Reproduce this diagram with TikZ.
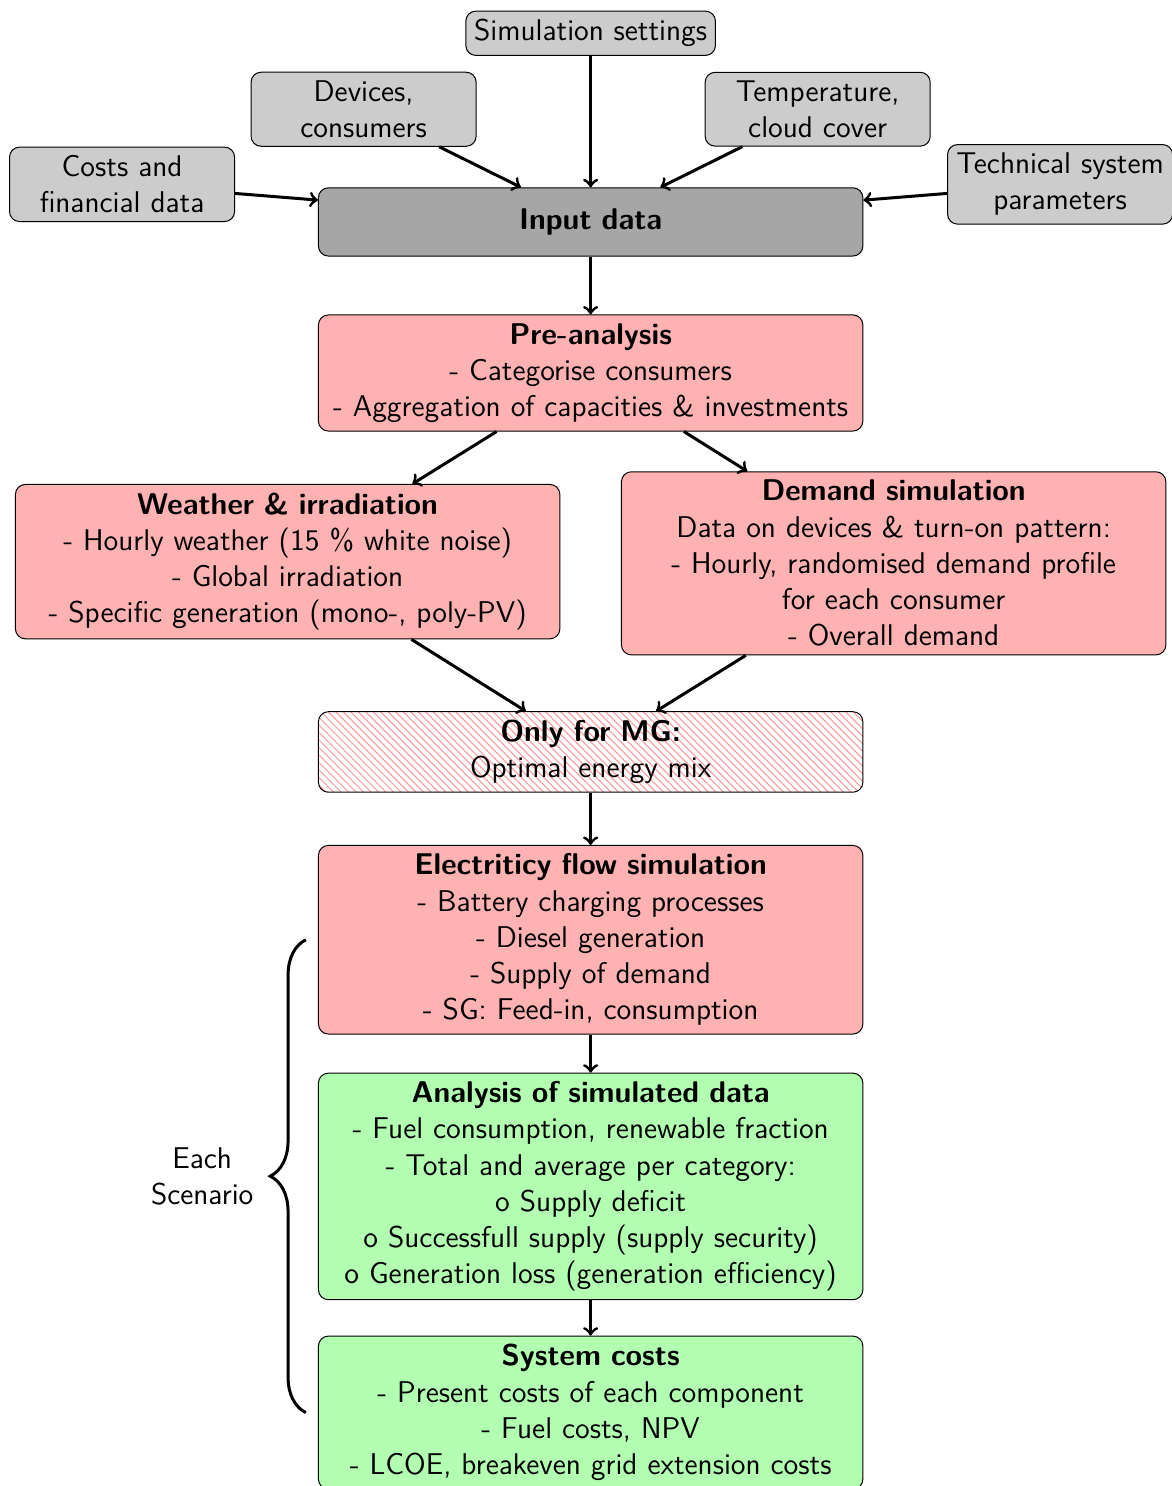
\documentclass[tikz,border=0pt]{standalone}
\usepackage{tikz}
\usetikzlibrary{patterns}
\usetikzlibrary{decorations.pathreplacing}

\begin{document}
\begin{tikzpicture}[x=1.2cm,y=1.2cm,font=\fontsize{12}{14.5}\selectfont\sffamily,
  inbox/.style={rectangle, rounded corners=4pt, draw=black, fill=black!20, text width=2.93cm, align=center},
  stepbox/.style={rectangle, rounded corners=4pt, draw=black, text width=7.42cm, align=center},
  simbox/.style={stepbox, fill=red!30},
  evalbox/.style={stepbox, fill=green!30},
  flow/.style={->, line width=1.2pt}]
\useasboundingbox (0,0) rectangle (13.73,-17.41);

\node[inbox, text width={}](sim) at (6.92,-0.39) {Simulation settings};
\node[inbox](dev) at (4.26,-1.28) {Devices,\\consumers};
\node[inbox](temp) at (9.58,-1.28) {Temperature,\\cloud cover};
\node[inbox](fin) at (1.43,-2.16) {Costs and\\financial data};
\node[inbox](tech) at (12.42,-2.16) {Technical system\\parameters};

\node[stepbox, fill=black!35, minimum height=0.96cm](input) at (6.92,-2.60) {\textbf{Input data}};

\draw[flow] (sim)--(input);
\draw[flow] (dev)--(input);
\draw[flow] (temp)--(input);
\draw[flow] (fin)--(input);
\draw[flow] (tech)--(input);

\node[simbox](pre) at (6.92,-4.37) {\textbf{Pre-analysis}\\- Categorise consumers\\- Aggregation of capacities \& investments};
\draw[flow] (input)--(pre);

\node[simbox](weather) at (3.37,-6.58) {\textbf{Weather \& irradiation}\\- Hourly weather (15 \% white noise)\\- Global irradiation\\- Specific generation (mono-, poly-PV)};
\node[simbox](demand) at (10.47,-6.60) {\textbf{Demand simulation}\\Data on devices \& turn-on pattern:\\- Hourly, randomised demand profile\\for each consumer\\- Overall demand};
\draw[flow] (pre)--(weather);
\draw[flow] (pre)--(demand);

\node[stepbox, pattern=north west lines, pattern color=red!40](mix) at (6.92,-8.81) {\textbf{Only for MG:}\\Optimal energy mix};
\draw[flow] (weather)--(mix);
\draw[flow] (demand)--(mix);

\node[simbox](elflow) at (6.92,-11.01) {\textbf{Electriticy flow simulation}\\- Battery charging processes\\- Diesel generation\\- Supply of demand\\- SG: Feed-in, consumption};
\draw[flow] (mix)--(elflow);

\node[evalbox](analysis) at (6.92,-13.90) {\textbf{Analysis of simulated data}\\- Fuel consumption, renewable fraction\\- Total and average per category:\\o Supply deficit\\o Successfull supply (supply security)\\o Generation loss (generation efficiency)};
\draw[flow] (elflow)--(analysis);

\node[evalbox](syscost) at (6.92,-16.55) {\textbf{System costs}\\- Present costs of each component\\- Fuel costs, NPV\\- LCOE, breakeven grid extension costs};
\draw[flow] (analysis)--(syscost);

\draw[line width=1.2pt, decorate, decoration={brace, amplitude=0.5cm}] ([xshift=-0.17cm]syscost.west) -- node[left=0.6cm, align=center](each){Each\\Scenario} ([xshift=-0.17cm]elflow.west);
\end{tikzpicture}
\end{document}
